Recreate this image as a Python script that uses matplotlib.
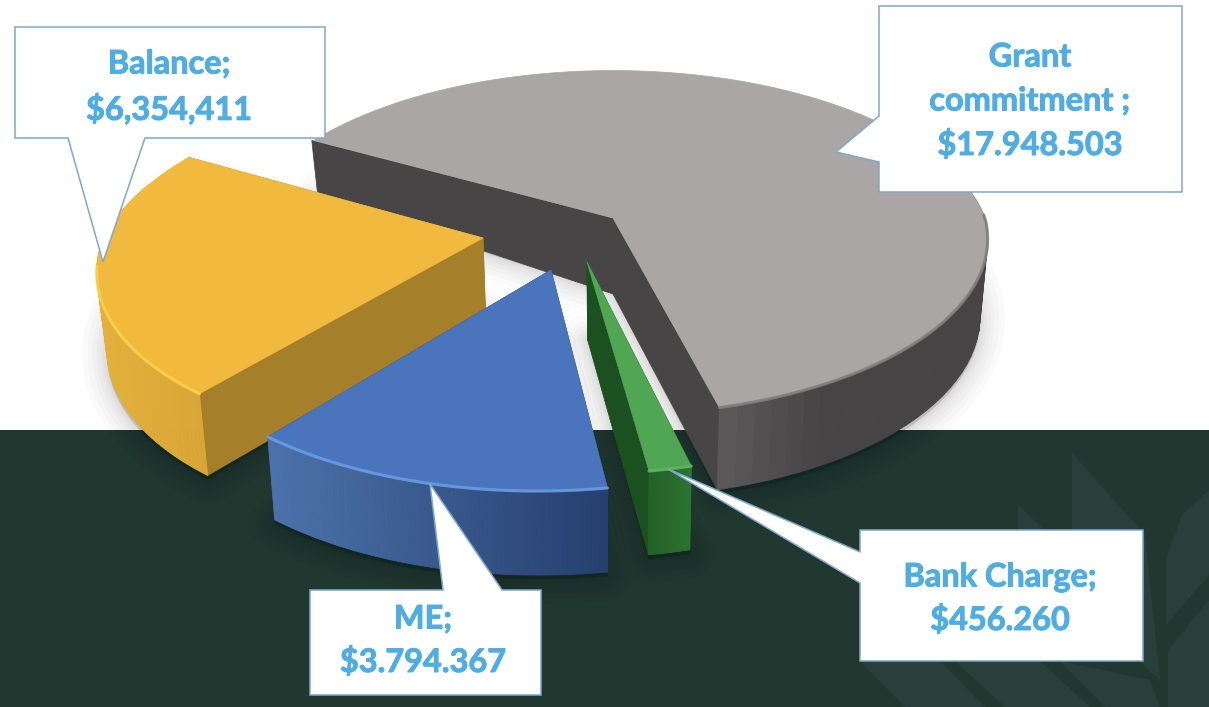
import numpy as np
import matplotlib
matplotlib.use('Agg')
import matplotlib.pyplot as plt
import matplotlib.patheffects as pe
from matplotlib.patches import Polygon, Rectangle
from matplotlib.colors import to_rgb

plt.rcParams['font.family'] = ['Lato', 'DejaVu Sans']

# budget split
categories = ['Grant commitment', 'Bank Charge', 'ME', 'Balance']
values = [17948503, 456260, 3794367, 6354411]
labels = ['Grant\ncommitment ;\n$17.948.503', 'Bank Charge;\n$456.260', 'ME;\n$3.794.367', 'Balance;\n$6,354,411']

START_ANGLE = 151
CX, CY = 613, 218     # where the pie centre lands on the canvas
RX, RY = 372, 174     # radii of the top face
PERSP = 0.18

# where each exploded slice's tip lands
tips = [(613, 218), (587, 262), (551, 270), (483, 238)]
radius_scale = [1.0, 0.98, 1.0, 1.0]
top_colors = ['#aaa6a6', '#50a653', '#4a75bc', '#f2b93f']
side_colors = ['#484546', '#1b5120', '#27406e', '#a57f2a']
wall_left = ['#5e5b5c', '#246126', '#4c72ab', '#e4b03b']
wall_right = ['#474445', '#2d7430', '#263f6e', '#d8a637']
wall_span = [(722, 830), (650, 693), (270, 610), (98, 210)]
rim_colors = ['#7f7c7c', '#60b863', '#6d9fe6', '#fbd24c']


def project(x, y):
    s = 1 / (1 + PERSP * y)
    return CX + RX * x * s, CY - RY * y * s


def unproject(px, py):
    t = (CY - py) / RY
    y = t / (1 - PERSP * t)
    x = (px - CX) / RX * (1 + PERSP * y)
    return x, y


def drop(px, py, y):
    # wall height shrinks towards the back of the pie
    h = np.interp(y, [-1.2, 0.0, 0.6], [84, 76, 50])
    return CX + (px - CX) * 0.98, py + h


def lerp(c1, c2, t):
    a, b = np.array(to_rgb(c1)), np.array(to_rgb(c2))
    return tuple(a + (b - a) * t)


def arc_points(i, a0, a1, n):
    ox, oy = unproject(*tips[i])
    ang = np.radians(np.linspace(a0, a1, n))
    # the front of the pie is pulled in a little
    r = radius_scale[i] * (1 - 0.06 * np.maximum(0, -np.sin(ang)))
    wx, wy = ox + r * np.cos(ang), oy + r * np.sin(ang)
    px, py = project(wx, wy)
    bx, by = drop(px, py, wy)
    return ang, wy, px, py, bx, by, oy


def draw_slice(ax, i, a0, a1, z):
    ang, wy, px, py, bx, by, oy = arc_points(i, a0, a1, 90)
    tx, ty = tips[i]
    tbx, tby = drop(tx, ty, oy)

    # the two cut faces
    spread = 2 if i == 0 else 0
    ax.add_patch(Polygon([(tx, ty), (px[0] - spread, py[0]), (bx[0] - spread, by[0]), (tbx, tby)],
                         fc=side_colors[i], ec=side_colors[i], lw=0.5, zorder=z))
    ax.add_patch(Polygon([(tx, ty), (px[-1], py[-1]), (bx[-1], by[-1]), (tbx, tby)],
                         fc=side_colors[i], ec=side_colors[i], lw=0.5, zorder=z))

    # outer wall as thin quads so the shade can run across it, back part stays hidden
    x0, x1 = wall_span[i]
    for j in range(len(ang) - 1):
        if wy[j] > oy + 0.3:
            continue
        t = np.clip((px[j] - x0) / (x1 - x0), 0, 1)
        c = lerp(wall_left[i], wall_right[i], t)
        ax.add_patch(Polygon([(px[j], py[j]), (px[j + 1], py[j + 1]), (bx[j + 1], by[j + 1]), (bx[j], by[j])],
                             fc=c, ec=c, lw=0.6, zorder=z + 0.1))

    # top face
    top = np.vstack([[tx, ty], np.column_stack([px, py])])
    ax.add_patch(Polygon(top, fc=top_colors[i], ec=top_colors[i], lw=0.5, zorder=z + 0.2))

    # lit rim where the wall is visible
    mask = wy < oy + 0.05
    if i == 3:
        mask = np.degrees(ang) > -172
    ax.plot(px[mask], py[mask], color=rim_colors[i], lw=2.2, alpha=0.85, zorder=z + 0.3, solid_capstyle='round')


def draw_shadow(ax, i, a0, a1):
    ang, wy, px, py, bx, by, oy = arc_points(i, a0, a1, 60)
    tbx, tby = drop(*tips[i], oy)
    base = np.vstack([[tbx, tby], np.column_stack([bx, by + 4])])
    for lw in [36, 28, 21, 15, 10, 6, 3]:
        ax.add_patch(Polygon(base, fc=(0, 0, 0, 0.018), ec=(0, 0, 0, 0.018), lw=lw, joinstyle='round', zorder=2))


def draw_callout(ax, pts, text, cx, ys, fs=23.4):
    ax.add_patch(Polygon(pts, fc='white', ec='#7fa9c9', lw=1.1, zorder=10))
    for line, y in zip(text.split('\n'), ys):
        ax.text(cx, y, line, ha='center', va='center', fontsize=fs, fontweight='bold', color='#4fade3', zorder=11,
                path_effects=[pe.withStroke(linewidth=0.7, foreground='#4fade3')])


fig = plt.figure(figsize=(12.09, 7.07), dpi=100)
ax = fig.add_axes([0, 0, 1, 1])
ax.set_xlim(0, 1209)
ax.set_ylim(707, 0)
ax.axis('off')

# dark footer band with the faint leaf pattern
ax.add_patch(Rectangle((0, 430), 1209, 277, fc='#20382f', ec='none', zorder=1))
leaves = [
    [(1072, 453), (1145, 535), (1160, 680), (1072, 600)],
    [(1018, 505), (1050, 535), (1018, 535)],
    [(1209, 490), (1182, 515), (1166, 560), (1166, 625), (1209, 575)],
    [(1209, 600), (1168, 650), (1168, 707), (1209, 707)],
    [(955, 661), (1005, 707), (1090, 707), (1040, 661)],
    [(860, 661), (905, 707), (985, 707), (940, 661)],
    [(1060, 661), (1105, 707), (1160, 707), (1150, 680)],
]
for leaf in leaves:
    ax.add_patch(Polygon(leaf, fc='#29403a', ec='none', zorder=1.2))

# slice angles come straight from the values, clockwise from the start angle
total = sum(values)
sweeps = [v / total * 360 for v in values]
edges = START_ANGLE - np.concatenate([[0], np.cumsum(sweeps)])

for i in range(4):
    draw_shadow(ax, i, edges[i], edges[i + 1])

for z, i in zip([3, 4, 5, 6], [0, 1, 3, 2]):
    draw_slice(ax, i, edges[i], edges[i + 1], z)

draw_callout(ax, [(15, 27), (325, 27), (325, 138), (145, 138), (103, 262), (68, 138), (15, 138)],
             labels[3], 169, [64, 109])
draw_callout(ax, [(879, 6), (1182, 6), (1182, 192), (879, 192), (879, 162), (836, 152), (879, 116)],
             labels[0], 1030, [57, 101, 145])
draw_callout(ax, [(310, 590), (443, 590), (430, 484), (502, 590), (541, 590), (541, 695), (310, 695)],
             labels[2], 423, [619, 662])
draw_callout(ax, [(860, 530), (1143, 530), (1143, 661), (860, 661), (860, 583), (668, 469), (860, 552)],
             labels[1], 1000, [577, 620])

fig.savefig('out.png', dpi=100)
